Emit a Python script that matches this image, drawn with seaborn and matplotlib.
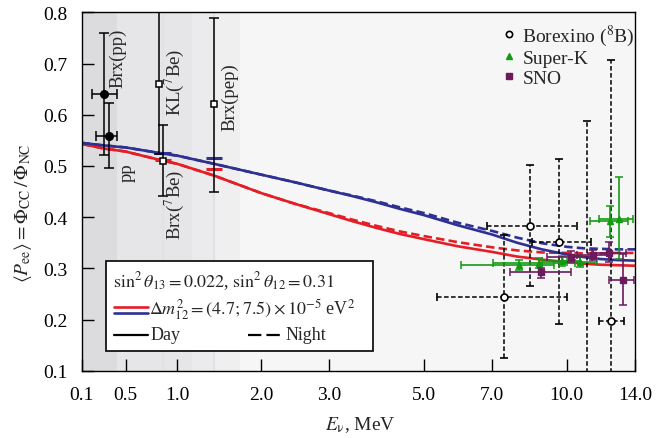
import numpy as np
import pandas as pd
import matplotlib
matplotlib.use("Agg")
import matplotlib.pyplot as plt
import seaborn as sns
from matplotlib.patches import Rectangle
from matplotlib.lines import Line2D

sns.set_theme(style="ticks")
plt.rcParams["font.family"] = ["Liberation Serif", "DejaVu Serif"]
plt.rcParams["mathtext.fontset"] = "stix"

# ---------------- data ----------------
# x-axis (energy, MeV) ticks and the non-uniform scale used by the original
TICK_E = [0.1, 0.5, 1.0, 2.0, 3.0, 5.0, 7.0, 10.0, 14.0]
TICK_LABELS = ["0.1", "0.5", "1.0", "2.0", "3.0", "5.0", "7.0", "10.0", "14.0"]
SCALE_E = [-1.0, 0.1, 0.5, 1.0, 2.0, 3.0, 5.0, 7.0, 10.0, 14.0, 30.0]
SCALE_U = [-0.2186, 0.0, 0.0795, 0.1728, 0.3241, 0.4464, 0.6181, 0.7416, 0.8766, 1.0, 1.4936]
Y_TICKS = [0.1, 0.2, 0.3, 0.4, 0.5, 0.6, 0.7, 0.8]

# model curves
E_CURVE = [0.1, 0.3, 0.5, 0.862, 1.0, 1.44, 2.0, 2.5, 3.0, 3.5, 4.0, 4.5, 5.0, 6.0,
           7.0, 8.0, 9.0, 10.0, 11.0, 12.0, 13.0, 14.0]
P_RED_DAY = [0.543, 0.534, 0.528, 0.510, 0.504, 0.481, 0.447, 0.426, 0.406, 0.392,
             0.379, 0.367, 0.357, 0.343, 0.332, 0.323, 0.317, 0.312, 0.309, 0.307,
             0.306, 0.305]
P_RED_NIGHT = [0.543, 0.534, 0.528, 0.510, 0.504, 0.481, 0.447, 0.426, 0.408, 0.395,
               0.383, 0.372, 0.363, 0.351, 0.341, 0.335, 0.331, 0.330, 0.329, 0.329,
               0.330, 0.330]
P_BLUE_DAY = [0.545, 0.540, 0.536, 0.524, 0.520, 0.504, 0.483, 0.468, 0.452, 0.441,
              0.429, 0.416, 0.404, 0.384, 0.366, 0.350, 0.337, 0.327, 0.322, 0.318,
              0.316, 0.315]
P_BLUE_NIGHT = [0.545, 0.540, 0.536, 0.524, 0.520, 0.504, 0.483, 0.468, 0.452, 0.442,
                0.431, 0.419, 0.408, 0.389, 0.373, 0.360, 0.349, 0.342, 0.339, 0.338,
                0.337, 0.337]

# theory marks at 7Be and pep lines
E_THEORY = [0.862, 1.44]
P_THEORY_BLUE = [0.526, 0.515]
P_THEORY_RED = [0.511, 0.493]

# low-energy measurements (filled circles: Brx(pp), pp)
LOW_E = [0.305, 0.348]
LOW_P = [0.640, 0.559]
LOW_E_LO = [0.19, 0.23]
LOW_E_HI = [0.42, 0.42]
LOW_P_LO = [0.521, 0.495]
LOW_P_HI = [0.760, 0.623]

# open squares: KL(7Be), Brx(7Be), Brx(pep)
SQ_E = [0.82, 0.862, 1.44]
SQ_P = [0.660, 0.509, 0.621]
SQ_P_LO = [0.523, 0.441, 0.450]
SQ_P_HI = [0.830, 0.579, 0.789]

# Borexino (8B)
BX_E = [8.53, 9.69, 7.49, 12.59, 11.17]
BX_P = [0.383, 0.352, 0.244, 0.197, 0.05]
BX_E_LO = [6.86, 8.59, 5.40, 11.90, 11.17]
BX_E_HI = [10.62, 11.43, 10.00, 13.35, 11.17]
BX_P_LO = [0.265, 0.191, 0.124, 0.0, 0.0]
BX_P_HI = [0.502, 0.513, 0.365, 0.707, 0.588]

# Super-K
SK_E = [8.08, 8.89, 9.80, 10.80, 12.55, 13.05]
SK_P = [0.307, 0.310, 0.315, 0.313, 0.392, 0.396]
SK_E_LO = [6.08, 7.05, 9.00, 10.00, 11.35, 11.90]
SK_E_HI = [9.50, 10.50, 10.80, 11.80, 13.60, 13.90]
SK_P_LO = [0.297, 0.300, 0.305, 0.303, 0.361, 0.318]
SK_P_HI = [0.317, 0.320, 0.325, 0.323, 0.421, 0.478]

# SNO
SNO_E = [8.96, 10.25, 11.55, 12.49, 13.27]
SNO_P = [0.292, 0.323, 0.326, 0.329, 0.277]
SNO_E_LO = [7.72, 9.20, 10.60, 11.50, 12.45]
SNO_E_HI = [10.26, 11.50, 12.50, 13.50, 13.95]
SNO_P_LO = [0.282, 0.313, 0.316, 0.312, 0.229]
SNO_P_HI = [0.301, 0.333, 0.336, 0.351, 0.328]

# background bands (energy edges)
BAND_LO = [0.1, 0.42, 1.17, 1.44]
BAND_HI = [0.42, 1.17, 1.44, 1.75]
BAND_COLORS = ["#dcdcdf", "#e6e6e8", "#ebebed", "#efeff0"]
LINE_E = [0.862, 1.44]

RED = "#e41e26"
BLUE = "#2e3192"
GREEN = "#139a13"
PURPLE = "#6b1a5c"

# ---------------- figure ----------------
fig = plt.figure(figsize=(6.66, 4.39), dpi=100)
ax = fig.add_axes([0.1227, 0.1533, 0.8308, 0.8164])


def fwd(x):
    return np.interp(np.asarray(x, dtype=float), SCALE_E, SCALE_U)


def inv(u):
    return np.interp(np.asarray(u, dtype=float), SCALE_U, SCALE_E)


ax.set_xscale("function", functions=(fwd, inv))
ax.set_facecolor("#f6f6f6")

for lo, hi, c in zip(BAND_LO, BAND_HI, BAND_COLORS):
    ax.axvspan(lo, hi, color=c, lw=0, zorder=0)
for e in LINE_E:
    ax.axvline(e, color="#e2e2e4", lw=1.6, zorder=0.5)

# curves
rows = []
for dm, tm, vals in [("4.7", "Day", P_RED_DAY), ("4.7", "Night", P_RED_NIGHT),
                     ("7.5", "Day", P_BLUE_DAY), ("7.5", "Night", P_BLUE_NIGHT)]:
    for e, p in zip(E_CURVE, vals):
        rows.append({"E": e, "P": p, "dm": dm, "time": tm})
df = pd.DataFrame(rows)
sns.lineplot(data=df, x="E", y="P", hue="dm", style="time",
             hue_order=["4.7", "7.5"], style_order=["Day", "Night"],
             palette={"4.7": RED, "7.5": BLUE},
             dashes={"Day": "", "Night": (3.2, 1.6)},
             linewidth=1.9, estimator=None, legend=False, ax=ax, zorder=2)

ax.plot(E_THEORY, P_THEORY_BLUE, ls="none", marker="_", ms=11, mew=2.2, color=BLUE, zorder=3)
ax.plot(E_THEORY, P_THEORY_RED, ls="none", marker="_", ms=11, mew=2.2, color=RED, zorder=3)


def errbar(E, P, Elo, Ehi, Plo, Phi, **kw):
    E = np.asarray(E); P = np.asarray(P)
    xerr = None
    if Elo is not None:
        xerr = [E - np.asarray(Elo), np.asarray(Ehi) - E]
    yerr = [P - np.asarray(Plo), np.asarray(Phi) - P]
    return ax.errorbar(E, P, xerr=xerr, yerr=yerr, **kw)


errbar(LOW_E, LOW_P, LOW_E_LO, LOW_E_HI, LOW_P_LO, LOW_P_HI, fmt="o", ms=5.5,
       color="black", ecolor="black", elinewidth=1.1, capsize=3.5, capthick=1.1, zorder=4)
errbar(SQ_E, SQ_P, None, None, SQ_P_LO, SQ_P_HI, fmt="s", ms=4.5, mfc="white",
       mec="black", mew=1.1, ecolor="black", elinewidth=1.1, capsize=3.5, capthick=1.1, zorder=4)

bx = errbar(BX_E, BX_P, BX_E_LO, BX_E_HI, BX_P_LO, BX_P_HI, fmt="o", ms=5, mfc="white",
            mec="black", mew=1.2, ecolor="black", elinewidth=1.1, capsize=3, capthick=1.1, zorder=3)
for lc in bx[2]:
    lc.set_linestyle((0, (3.0, 1.6)))
errbar(SK_E, SK_P, SK_E_LO, SK_E_HI, SK_P_LO, SK_P_HI, fmt="^", ms=5, color=GREEN,
       ecolor=GREEN, elinewidth=1.2, capsize=3, capthick=1.1, zorder=4)
errbar(SNO_E, SNO_P, SNO_E_LO, SNO_E_HI, SNO_P_LO, SNO_P_HI, fmt="s", ms=5, color=PURPLE,
       ecolor=PURPLE, elinewidth=1.2, capsize=3, capthick=1.1, zorder=4)

# rotated labels
lab_kw = dict(rotation=90, ha="center", va="center", fontsize=13.5, zorder=5)
ax.text(0.43, 0.713, "Brx(pp)", **lab_kw)
ax.text(0.51, 0.488, "pp", **lab_kw)
ax.text(0.968, 0.666, r"KL($^{7}$Be)", **lab_kw)
ax.text(0.968, 0.426, r"Brx($^{7}$Be)", **lab_kw)
ax.text(1.63, 0.637, "Brx(pep)", **lab_kw)

# axes styling
ax.set_xlim(0.1, 14.0)
ax.set_ylim(0.1, 0.8)
ax.set_xticks(TICK_E)
ax.set_xticklabels(TICK_LABELS)
ax.set_yticks(Y_TICKS)
ax.set_yticklabels([f"{v:.1f}" for v in Y_TICKS])
ax.minorticks_off()
ax.tick_params(axis="both", direction="in", length=8.5, width=1.0, labelsize=14,
               colors="black", top=False, right=False)
ax.tick_params(axis="x", pad=11)
ax.tick_params(axis="y", pad=10)
for sp in ax.spines.values():
    sp.set_visible(True)
    sp.set_color("black")
    sp.set_linewidth(1.0)
ax.set_xlabel("")
ax.set_ylabel("")

fig.text(0.541, 0.032, r"$E_{\mathrm{\nu}}$, MeV", ha="center", va="center", fontsize=14)
fig.text(0.034, 0.515,
         r"$\langle P_{\mathrm{ee}}\rangle = \mathit{\Phi}_{\mathrm{CC}}\,/\,\mathit{\Phi}_{\mathrm{NC}}$",
         rotation=90, ha="center", va="center", fontsize=14)

# legend for experiments
handles = [
    Line2D([], [], ls="none", marker="o", ms=4.5, mfc="white", mec="black", mew=1.2),
    Line2D([], [], ls="none", marker="^", ms=4.5, color=GREEN),
    Line2D([], [], ls="none", marker="s", ms=4.2, color=PURPLE),
]
ax.legend(handles, [r"Borexino ($^{8}$B)", "Super-K", "SNO"], loc="upper left",
          bbox_to_anchor=(0.735, 1.01), frameon=False, handlelength=0.7,
          handletextpad=0.35, labelspacing=0.1, borderpad=0.2, fontsize=14)

# parameter box
tr = ax.transAxes
ax.add_patch(Rectangle((0.0439, 0.0558), 0.4831, 0.2512, transform=tr, facecolor="white",
                       edgecolor="black", lw=1.2, zorder=6))
ax.text(0.057, 0.251, r"$\sin^2\theta_{13} = 0.022$, $\sin^2\theta_{12} = 0.31$",
        transform=tr, ha="left", va="center", fontsize=13, zorder=7)
ax.add_line(Line2D([0.058, 0.120], [0.178, 0.178], transform=tr, color=RED, lw=1.9, zorder=7))
ax.add_line(Line2D([0.058, 0.120], [0.162, 0.162], transform=tr, color=BLUE, lw=1.9, zorder=7))
ax.text(0.122, 0.172, r"$\Delta m^2_{12} = (4.7;7.5)\times10^{-5}$ eV$^2$",
        transform=tr, ha="left", va="center", fontsize=13, zorder=7)
ax.add_line(Line2D([0.058, 0.120], [0.100, 0.100], transform=tr, color="black", lw=1.6, zorder=7))
ax.text(0.125, 0.100, "Day", transform=tr, ha="left", va="center", fontsize=13, zorder=7)
ax.add_line(Line2D([0.300, 0.358], [0.100, 0.100], transform=tr, color="black", lw=1.6,
                   ls=(0, (6, 2.3)), zorder=7))
ax.text(0.369, 0.100, "Night", transform=tr, ha="left", va="center", fontsize=13, zorder=7)

fig.savefig("out.png", dpi=100, facecolor="white")
